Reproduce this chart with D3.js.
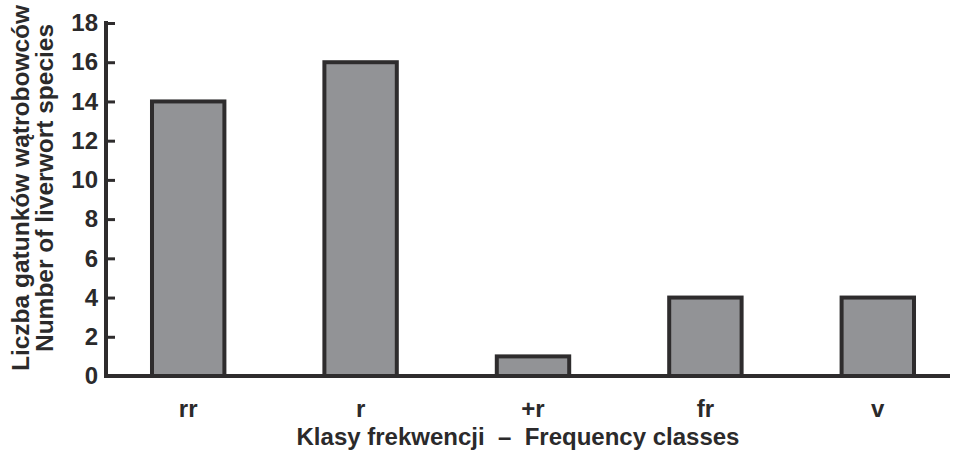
<!DOCTYPE html>
<html>
<head>
<meta charset="utf-8">
<script src="https://cdn.jsdelivr.net/npm/d3@7"></script>
<style>
  body { margin: 0; background: #fff; }
  text { font-family: "Liberation Sans", Arial, sans-serif; font-weight: bold; fill: #2b2a2b; }
</style>
</head>
<body>
<div id="chart"></div>
<script>
// data
let classes = ['rr', 'r', '+r', 'fr', 'v'],
	speciesCount = [14, 16, 1, 4, 4],
	yTicks = [0, 2, 4, 6, 8, 10, 12, 14, 16, 18];

let w = 954, h = 459,
	ink = '#2e2c2d',
	barFill = '#929396',
	fontSize = '24px';

let svg = d3.select('#chart').append('svg').attr('width', w).attr('height', h);

let scaleX = d3.scaleBand().domain(classes).range([102, 964]).paddingInner(0.58).paddingOuter(0.29);
let scaleY = d3.scaleLinear().domain([0, 18]).range([376, 23]);

// bars
svg.selectAll('rect.bar')
	.data(classes)
	.enter().append('rect')
	.attr('class', 'bar')
	.attr('x', d => scaleX(d))
	.attr('y', (d, i) => scaleY(speciesCount[i]))
	.attr('width', scaleX.bandwidth())
	.attr('height', (d, i) => scaleY(0) - scaleY(speciesCount[i]))
	.style('fill', barFill)
	.style('stroke', ink)
	.style('stroke-width', 4);

// x axis line
svg.append('line')
	.attr('x1', 104).attr('x2', 950)
	.attr('y1', scaleY(0)).attr('y2', scaleY(0))
	.style('stroke', ink).style('stroke-width', 4);

// y axis, ticks pointing inwards
let yAxis = svg.append('g')
	.attr('transform', 'translate(106,0)')
	.call(d3.axisLeft(scaleY).tickValues(yTicks).tickSize(-9).tickPadding(8));
yAxis.select('.domain')
	.attr('d', 'M0,' + (scaleY(18) - 2) + 'V' + (scaleY(0) + 2))
	.style('stroke', ink).style('stroke-width', 4);
yAxis.selectAll('.tick line').style('stroke', ink).style('stroke-width', 3);
yAxis.selectAll('.tick text')
	.style('font-size', fontSize)
	.style('font-family', '"Liberation Sans", Arial, sans-serif')
	.style('font-weight', 'bold')
	.style('fill', '#2b2a2b');

// category labels
svg.selectAll('text.cat')
	.data(classes)
	.enter().append('text')
	.attr('class', 'cat')
	.attr('x', d => scaleX(d) + scaleX.bandwidth() / 2)
	.attr('y', 417)
	.attr('text-anchor', 'middle')
	.style('font-size', fontSize)
	.text(d => d);

// axis titles
svg.append('text')
	.attr('x', 518).attr('y', 445)
	.attr('text-anchor', 'middle')
	.style('font-size', fontSize)
	.attr('xml:space', 'preserve')
	.text('Klasy frekwencji  –  Frequency classes');

let yTitle = svg.append('g').attr('transform', 'translate(0,188) rotate(-90)');
yTitle.append('text')
	.attr('x', 0).attr('y', 29)
	.attr('text-anchor', 'middle')
	.style('font-size', '24.5px')
	.text('Liczba gatunków wątrobowców');
yTitle.append('text')
	.attr('x', 0).attr('y', 53)
	.attr('text-anchor', 'middle')
	.style('font-size', '24.5px')
	.text('Number of liverwort species');
</script>
</body>
</html>
